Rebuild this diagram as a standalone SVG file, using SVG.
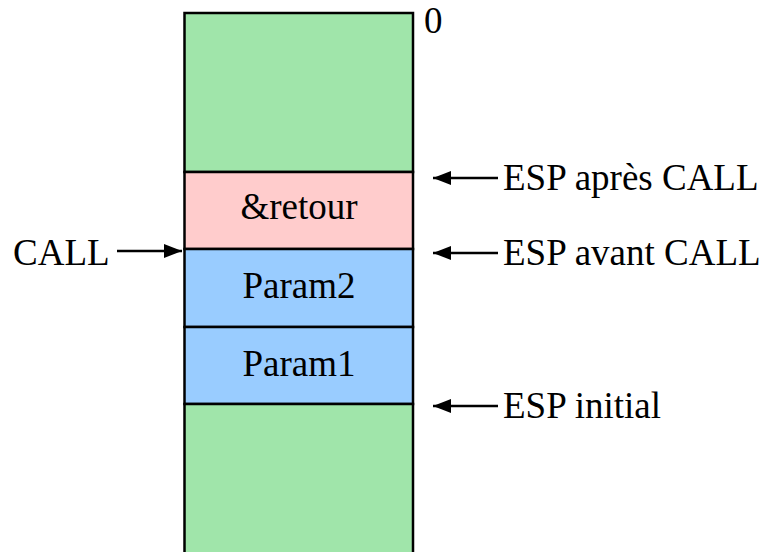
<svg xmlns="http://www.w3.org/2000/svg" width="769" height="552" viewBox="0 0 769 552">
<style>
text{font-family:'Liberation Serif','DejaVu Serif',serif;font-size:37px;fill:#000}
.c{text-anchor:middle}
.cell{stroke:#000;stroke-width:2.5}
.arr{stroke:#000;stroke-width:2.4;fill:none}
</style>
<defs>
<marker id="ah" viewBox="0 0 18 14" refX="18" refY="7" markerWidth="18" markerHeight="14" markerUnits="userSpaceOnUse" orient="auto">
<path d="M0,0 L18,7 L0,14 Z" fill="#000"/>
</marker>
</defs>
<g id="stack">
<g id="top"><rect class="cell" x="184.5" y="13" width="228.5" height="159" fill="#A0E5AA"/></g>
<g id="retour"><rect class="cell" x="184.5" y="172" width="228.5" height="77" fill="#FFCCCC"/><text class="c" x="299" y="219" font-family="Liberation Serif, serif">&amp;retour</text></g>
<g id="param2"><rect class="cell" x="184.5" y="249" width="228.5" height="78" fill="#99CCFF"/><text class="c" x="299" y="298" font-family="Liberation Serif, serif">Param2</text></g>
<g id="param1"><rect class="cell" x="184.5" y="327" width="228.5" height="77" fill="#99CCFF"/><text class="c" x="299" y="376" font-family="Liberation Serif, serif">Param1</text></g>
<g id="bottom"><rect class="cell" x="184.5" y="404" width="228.5" height="160" fill="#A0E5AA"/></g>
</g>
<g id="labels">
<text x="424" y="33" font-size="25" font-family="Liberation Serif, serif">0</text>
<text x="503" y="190" font-family="Liberation Serif, serif">ESP après CALL</text>
<text x="503" y="265" font-family="Liberation Serif, serif">ESP avant CALL</text>
<text x="503" y="418" font-family="Liberation Serif, serif">ESP initial</text>
<text x="13" y="265" font-family="Liberation Serif, serif">CALL</text>
</g>
<g id="connectors">
<line class="arr" x1="498" y1="178" x2="433" y2="178" marker-end="url(#ah)"/>
<line class="arr" x1="498" y1="253" x2="433" y2="253" marker-end="url(#ah)"/>
<line class="arr" x1="498" y1="406" x2="433" y2="406" marker-end="url(#ah)"/>
<line class="arr" x1="117" y1="251" x2="182" y2="251" marker-end="url(#ah)"/>
</g>
</svg>
